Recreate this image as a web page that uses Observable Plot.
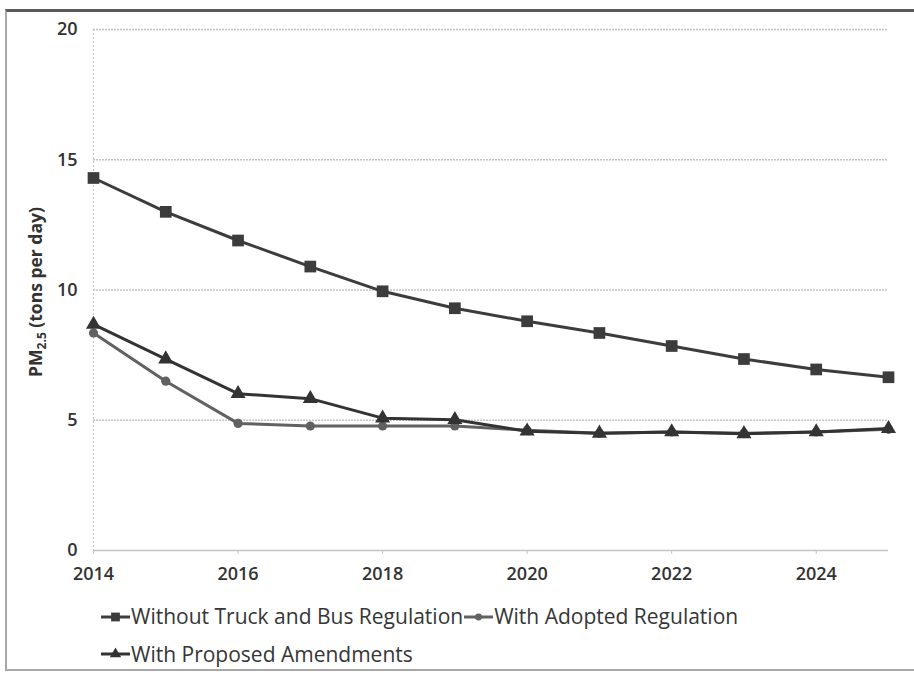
<!DOCTYPE html>
<html><head><meta charset="utf-8">
<script src="https://cdn.jsdelivr.net/npm/d3@7"></script>
<script src="https://cdn.jsdelivr.net/npm/@observablehq/plot@0.6"></script>
<style>
body{margin:0;background:#fff;font-family:"Open Sans",sans-serif;}
#frame{position:absolute;left:5px;top:9px;width:940px;height:662px;border-top:3px solid #5a5a5a;border-left:2px solid #a8a8a8;border-bottom:2px solid #a8a8a8;box-sizing:border-box;}
#chart{position:absolute;left:0;top:0;}
#legend{position:absolute;left:100px;top:598px;color:#363636;font-size:21px;line-height:37px;}
#legend .item{display:inline-flex;align-items:center;white-space:nowrap;}
#legend svg{display:block;}
</style>
</head><body>
<div id="frame"></div>
<div id="chart"></div>
<div id="legend"></div>
<script>
const years = [2014, 2015, 2016, 2017, 2018, 2019, 2020, 2021, 2022, 2023, 2024, 2025];
const withoutReg = [14.3, 13.0, 11.9, 10.9, 9.95, 9.3, 8.8, 8.35, 7.85, 7.35, 6.95, 6.65];
const adoptedReg = [8.35, 6.5, 4.88, 4.78, 4.78, 4.78, 4.62, 4.5, 4.55, 4.5, 4.55, 4.65];
const proposedAm = [8.68, 7.35, 6.02, 5.83, 5.08, 5.02, 4.58, 4.5, 4.55, 4.48, 4.55, 4.68];
const seriesNames = ["Without Truck and Bus Regulation", "With Adopted Regulation", "With Proposed Amendments"];
const xTicks = [2014, 2016, 2018, 2020, 2022, 2024];
const yTicks = [0, 5, 10, 15, 20];

const series = [
  {name: seriesNames[0], values: withoutReg, color: "#3c3c3c", symbol: "square", r: 6.6},
  {name: seriesNames[1], values: adoptedReg, color: "#616161", symbol: "circle", r: 4.6},
  {name: seriesNames[2], values: proposedAm, color: "#333333", symbol: "triangle", r: 5.6}
];
const rows = series.flatMap(s => years.map((y, i) => ({series: s.name, year: y, value: s.values[i]})));

const marks = [
  Plot.ruleY(yTicks.filter(d => d > 0), {stroke: "#c4c4c4", strokeWidth: 1.3, strokeDasharray: "2,1"}),
  Plot.ruleY([0], {stroke: "#c4c4c4", strokeWidth: 1.3}),
  Plot.ruleX([2014], {stroke: "#c4c4c4", strokeWidth: 1.2, strokeDasharray: "2,2"}),
  Plot.axisX({ticks: xTicks, tickFormat: d => String(d), tickSize: 4, tickPadding: 13, stroke: "#c4c4c4", fill: "#333", fontSize: 18, fontWeight: 600}),
  Plot.axisY({ticks: yTicks, tickSize: 0, tickPadding: 16, label: null, fill: "#333", fontSize: 18, fontWeight: 600})
];
for (const s of series) {
  const data = rows.filter(d => d.series === s.name);
  marks.push(Plot.line(data, {x: "year", y: "value", stroke: s.color, strokeWidth: 3}));
  marks.push(Plot.dot(data, {x: "year", y: "value", symbol: () => s.symbol, fill: s.color, stroke: "none", r: s.r}));
}

const chart = Plot.plot({
  width: 914,
  height: 595,
  marginLeft: 93,
  marginRight: 26,
  marginTop: 29,
  marginBottom: 45,
  x: {domain: [2014, 2025], label: null},
  y: {domain: [0, 20], label: null},
  symbol: {type: "identity"},
  style: {background: "transparent", fontFamily: "'Open Sans', sans-serif"},
  marks
});
document.getElementById("chart").appendChild(chart);

// y-axis label with subscript
const svg = d3.select(chart);
const lab = svg.append("text")
  .attr("transform", "translate(42,292) rotate(-90)")
  .attr("text-anchor", "middle")
  .attr("fill", "#333")
  .attr("font-size", 17.5)
  .attr("font-weight", 700)
  .attr("font-family", "'Open Sans', sans-serif");
lab.append("tspan").text("PM");
lab.append("tspan").attr("font-size", 12).attr("dy", 4).text("2.5");
lab.append("tspan").attr("dy", -4).text(" (tons per day)");

// legend
const legend = d3.select("#legend");
const order = [[0, 1], [2]];
for (const row of order) {
  const div = legend.append("div");
  for (const idx of row) {
    const s = series[idx];
    const item = div.append("span").attr("class", "item");
    const sw = item.append("svg").attr("width", 31).attr("height", 16);
    sw.append("line").attr("x1", 1).attr("x2", 30).attr("y1", 8).attr("y2", 8).attr("stroke", s.color).attr("stroke-width", 3);
    const sym = {square: d3.symbolSquare, circle: d3.symbolCircle, triangle: d3.symbolTriangle}[s.symbol];
    sw.append("path").attr("transform", "translate(15.5,8)").attr("d", d3.symbol(sym, Math.PI * (s.r * 0.75) ** 2)()).attr("fill", s.color);
    item.append("span").text(s.name);
  }
}
</script>
</body></html>
